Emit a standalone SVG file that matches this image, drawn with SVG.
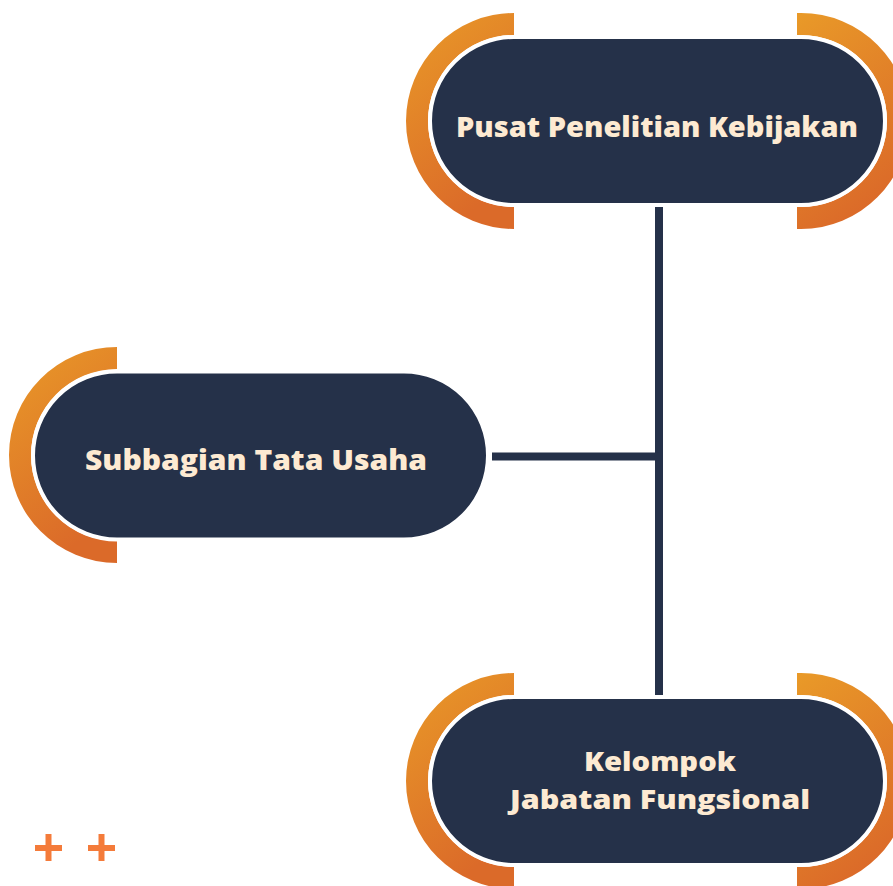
<svg xmlns="http://www.w3.org/2000/svg" width="893" height="886" viewBox="0 0 893 886">
<defs>
<linearGradient id="og" x1="0" y1="0" x2="0.4" y2="1">
<stop offset="0" stop-color="#E99A28"/>
<stop offset="1" stop-color="#DB6A29"/>
</linearGradient>
<style>
.ring{fill:url(#og);}
.pill{fill:#253149;stroke:#ffffff;stroke-width:4;}
.lbl{font-family:"Open Sans","Liberation Sans",sans-serif;font-weight:800;font-size:29px;fill:#FDEAD2;text-anchor:middle;}
.sm{font-size:27px;}
.con{stroke:#253149;stroke-width:8;fill:none;}
.plus{stroke:#F47B3A;stroke-width:6;}
</style>
</defs>
<rect width="893" height="886" fill="#ffffff"/>
<g id="connectors">
<line class="con" x1="659" y1="207" x2="659" y2="695"/>
<line class="con" x1="492" y1="456.5" x2="659" y2="456.5"/>
</g>
<g id="node-pusat">
<path class="ring" d="M514,13 A108,108 0 0 0 514,229 L514,207 A86,86 0 0 1 514,35 Z"/>
<path class="ring" d="M797,13 L801,13 A108,108 0 0 1 801,229 L797,229 L797,207 L801,207 A86,86 0 0 0 801,35 L797,35 Z"/>
<rect class="pill" x="430" y="37" width="455" height="168" rx="84"/>
<text class="lbl" x="657" y="137" textLength="402" lengthAdjust="spacingAndGlyphs">Pusat Penelitian Kebijakan</text>
</g>
<g id="node-subbagian">
<path class="ring" d="M117,347 A108,108 0 0 0 117,563 L117,541 A86,86 0 0 1 117,369 Z"/>
<rect class="pill" x="33" y="371.5" width="455" height="168" rx="84"/>
<text class="lbl" x="256" y="470" textLength="342" lengthAdjust="spacingAndGlyphs">Subbagian Tata Usaha</text>
</g>
<g id="node-kelompok">
<path class="ring" d="M514,673 A108,108 0 0 0 514,889 L514,867 A86,86 0 0 1 514,695 Z"/>
<path class="ring" d="M797,673 L801,673 A108,108 0 0 1 801,889 L797,889 L797,867 L801,867 A86,86 0 0 0 801,695 L797,695 Z"/>
<rect class="pill" x="430" y="697" width="455" height="168" rx="84"/>
<text class="lbl sm" x="660" y="771" textLength="152" lengthAdjust="spacingAndGlyphs">Kelompok</text>
<text class="lbl sm" x="660" y="809" textLength="300" lengthAdjust="spacingAndGlyphs">Jabatan Fungsional</text>
</g>
<g id="decor">
<line class="plus" x1="35" y1="848" x2="62" y2="848"/>
<line class="plus" x1="48.5" y1="834" x2="48.5" y2="861"/>
<line class="plus" x1="88" y1="848" x2="115" y2="848"/>
<line class="plus" x1="101.5" y1="834" x2="101.5" y2="861"/>
</g>
</svg>
